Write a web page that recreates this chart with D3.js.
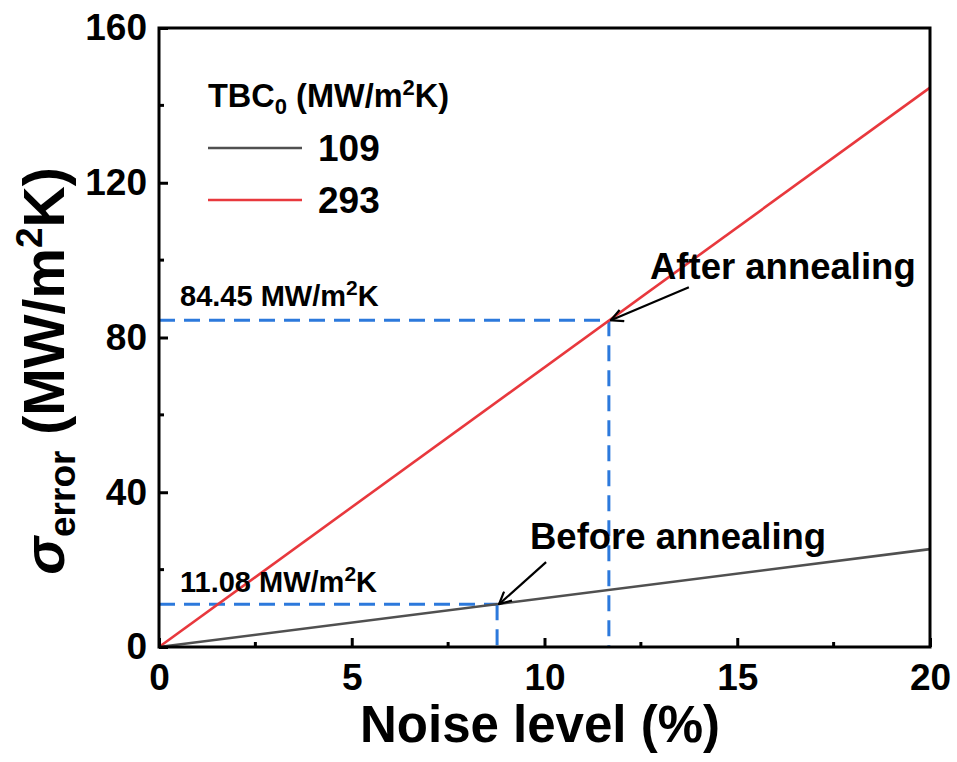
<!DOCTYPE html>
<html>
<head>
  <meta charset="utf-8">
  <style>
    body { margin: 0; background: #fff; }
    text { font-family: "Liberation Sans", Arial, sans-serif; font-weight: bold; fill: #000; }
  </style>
  <title>Sigma error vs noise level</title>
</head>
<body>
  <script src="https://cdn.jsdelivr.net/npm/d3@7/dist/d3.min.js"></script>
  <script>
    // data
    var noiseLevel = [0, 20];
    var tbc109 = [0, 25.3];
    var tbc293 = [0, 144.6];
    var seriesNames = ["109", "293"];
    var seriesColors = ["#505050", "#e8383d"];
    var xTicks = [0, 5, 10, 15, 20];
    var yTicks = [0, 40, 80, 120, 160];
    var xMinor = [2.5, 7.5, 12.5, 17.5];
    var yMinor = [20, 60, 100, 140];
    var markNoise = [11.67, 8.77];
    var markValue = [84.45, 11.08];
    var markText = ["84.45 MW/m", "11.08 MW/m"];
    var arrowText = ["After annealing", "Before annealing"];

    var width = 957, height = 762;
    var plotL = 159, plotR = 930, plotT = 28, plotB = 647;

    var svg = d3.select("body").append("svg").attr("width", width).attr("height", height);

    var x = d3.scaleLinear().domain([0, 20]).range([plotL, plotR]);
    var y = d3.scaleLinear().domain([0, 160]).range([plotB, plotT]);

    // dashed guides
    var blue = "#2c79dc";
    for (var i = 0; i < markNoise.length; i++) {
      svg.append("line").attr("x1", x(0)).attr("x2", x(markNoise[i]))
        .attr("y1", y(markValue[i])).attr("y2", y(markValue[i]))
        .attr("stroke", blue).attr("stroke-width", 3).attr("stroke-dasharray", "16,9");
      svg.append("line").attr("x1", x(markNoise[i])).attr("x2", x(markNoise[i]))
        .attr("y1", y(markValue[i])).attr("y2", y(0))
        .attr("stroke", blue).attr("stroke-width", 3).attr("stroke-dasharray", "16,9");
    }

    // series lines
    var line = d3.line().x(function(d) { return x(d[0]); }).y(function(d) { return y(d[1]); });
    [tbc109, tbc293].forEach(function(vals, k) {
      var pts = noiseLevel.map(function(n, j) { return [n, vals[j]]; });
      svg.append("path").datum(pts).attr("d", line).attr("fill", "none")
        .attr("stroke", seriesColors[k]).attr("stroke-width", 2.6);
    });

    // axes, ticks inward
    var xAxis = d3.axisBottom(x).tickValues(xTicks).tickSize(-9).tickPadding(17).tickFormat(d3.format("d"));
    var yAxis = d3.axisLeft(y).tickValues(yTicks).tickSize(-9).tickPadding(12).tickFormat(d3.format("d"));
    var gx = svg.append("g").attr("transform", "translate(0," + plotB + ")").call(xAxis);
    var gy = svg.append("g").attr("transform", "translate(" + plotL + ",0)").call(yAxis);
    [gx, gy].forEach(function(g) {
      g.select(".domain").remove();
      g.selectAll(".tick line").attr("stroke", "#000").attr("stroke-width", 3);
      g.selectAll(".tick text").attr("font-size", 37).attr("fill", "#000")
        .style("font-family", "Liberation Sans, Arial, sans-serif").style("font-weight", "bold");
    });
    gx.selectAll(".tick text").attr("dy", "0.71em");
    gx.selectAll(".minor").data(xMinor).enter().append("line")
      .attr("x1", function(d) { return x(d); }).attr("x2", function(d) { return x(d); })
      .attr("y1", 0).attr("y2", -5).attr("stroke", "#000").attr("stroke-width", 3);
    gy.selectAll(".minor").data(yMinor).enter().append("line")
      .attr("y1", function(d) { return y(d); }).attr("y2", function(d) { return y(d); })
      .attr("x1", 0).attr("x2", 5).attr("stroke", "#000").attr("stroke-width", 3);

    // frame
    svg.append("rect").attr("x", plotL).attr("y", plotT).attr("width", plotR - plotL).attr("height", plotB - plotT)
      .attr("fill", "none").attr("stroke", "#000").attr("stroke-width", 3);

    // value labels
    var labelPos = [[180, 306], [180, 592]];
    markText.forEach(function(t, i) {
      var tx = svg.append("text").attr("x", labelPos[i][0]).attr("y", labelPos[i][1]).attr("font-size", 29);
      tx.append("tspan").text(t);
      tx.append("tspan").attr("dy", -11).attr("font-size", 21).text("2");
      tx.append("tspan").attr("dy", 11).text("K");
    });

    // arrows
    svg.append("defs").append("marker").attr("id", "arr").attr("viewBox", "0 0 14 14")
      .attr("refX", 13).attr("refY", 7).attr("markerWidth", 14).attr("markerHeight", 14)
      .attr("markerUnits", "userSpaceOnUse").attr("orient", "auto")
      .append("path").attr("d", "M1,1 L13,7 L1,13").attr("fill", "none").attr("stroke", "#000").attr("stroke-width", 2.2);
    var tails = [[78, -33], [47, -42]];
    var textPos = [[650, 279], [530, 549]];
    for (var a = 0; a < 2; a++) {
      var tipX = x(markNoise[a]) + 2, tipY = y(markValue[a]);
      svg.append("line").attr("x1", tipX + tails[a][0]).attr("y1", tipY + tails[a][1])
        .attr("x2", tipX).attr("y2", tipY).attr("stroke", "#000").attr("stroke-width", 2.2)
        .attr("marker-end", "url(#arr)");
      svg.append("text").attr("x", textPos[a][0]).attr("y", textPos[a][1]).attr("font-size", 36.5).text(arrowText[a]);
    }

    // legend
    var lt = svg.append("text").attr("x", 208).attr("y", 107).attr("font-size", 32.5);
    lt.append("tspan").text("TBC");
    lt.append("tspan").attr("dy", 7).attr("font-size", 22).text("0");
    lt.append("tspan").attr("dy", -7).text(" (MW/m");
    lt.append("tspan").attr("dy", -12).attr("font-size", 22).text("2");
    lt.append("tspan").attr("dy", 12).text("K)");
    var legY = [148, 200];
    seriesNames.forEach(function(n, i) {
      svg.append("line").attr("x1", 208).attr("x2", 302).attr("y1", legY[i]).attr("y2", legY[i])
        .attr("stroke", seriesColors[i]).attr("stroke-width", 2.6);
      svg.append("text").attr("x", 318).attr("y", legY[i]).attr("dy", "0.36em").attr("font-size", 37).text(n);
    });

    // axis titles
    svg.append("text").attr("x", 540).attr("y", 742).attr("text-anchor", "middle").attr("font-size", 51)
      .text("Noise level (%)");
    var yt = svg.append("text").attr("text-anchor", "middle").attr("font-size", 57)
      .attr("transform", "translate(64,371) rotate(-90)");
    yt.append("tspan").style("font-style", "italic").text("σ");
    yt.append("tspan").attr("dy", 11).attr("font-size", 37).text("error");
    yt.append("tspan").attr("dy", -11).text(" (MW/m");
    yt.append("tspan").attr("dy", -22).attr("font-size", 37).text("2");
    yt.append("tspan").attr("dy", 22).text("K)");
  </script>
</body>
</html>
